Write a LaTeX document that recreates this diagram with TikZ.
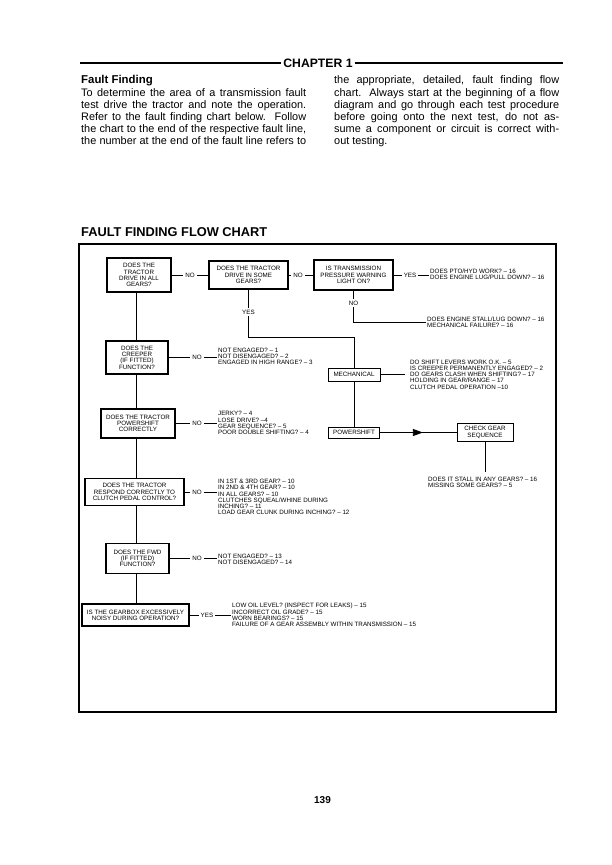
\documentclass[tikz,border=0pt]{standalone}
\usepackage{fontspec}
\setmainfont{Liberation Sans}
\usetikzlibrary{arrows.meta,decorations.markings}
\newcommand{\chfont}{\fontsize{6.25}{6.3}\selectfont}
\begin{document}
\begin{tikzpicture}[x=1pt,y=-1pt,
  box/.style={draw, line width=1.2pt, align=center, font=\chfont, inner sep=0pt},
  sbox/.style={box, line width=1pt},
  lab/.style={font=\chfont, inner sep=2pt},
  txt/.style={font=\chfont, align=left, inner sep=1pt, anchor=west},
  con/.style={line width=0.9pt},
  body/.style={font=\fontsize{10.9}{12.2}\selectfont, anchor=base west, inner sep=0pt}]
\useasboundingbox (0,0) rectangle (612,865);
\fill[white] (0,0) rectangle (612,865);

% header
\node[font=\bfseries\fontsize{12.2}{13}\selectfont, inner sep=2.5pt] (chap) at (318,63) {CHAPTER 1};
\coordinate (hl) at (80,63);
\coordinate (hr) at (563,63);
\draw[line width=2.2pt] (hl) -- (chap.west);
\draw[line width=2.2pt] (chap.east) -- (hr);

% body text
\node[body, font=\bfseries\fontsize{11.4}{12.2}\selectfont] (l1) at (81,83.8) {Fault Finding};
\node[body] (l2) at (81,96) {\makebox[225pt][s]{To determine the area of a transmission fault}};
\node[body] (l3) at (81,108.2) {\makebox[225pt][s]{test drive the tractor and note the operation.}};
\node[body] (l4) at (81,120.4) {\makebox[225pt][s]{Refer to the fault finding chart below.\ \ Follow}};
\node[body] (l5) at (81,132.6) {\makebox[225pt][s]{the chart to the end of the respective fault line,}};
\node[body] (l6) at (81,144.8) {\makebox[225pt][s]{the number at the end of the fault line refers to}};
\node[body] (r1) at (334,83.8) {\makebox[225pt][s]{the appropriate, detailed, fault finding flow}};
\node[body] (r2) at (334,96) {\makebox[225pt][s]{chart.\ \ Always start at the beginning of a flow}};
\node[body] (r3) at (334,108.2) {\makebox[225pt][s]{diagram and go through each test procedure}};
\node[body] (r4) at (334,120.4) {\makebox[225pt][s]{before going onto the next test, do not as-}};
\node[body] (r5) at (334,132.6) {\makebox[225pt][s]{sume a component or circuit is correct with-}};
\node[body] (r6) at (334,144.8) {out testing.};

% chart title and frame
\node[anchor=base west, inner sep=0pt, font=\bfseries\fontsize{12.8}{13}\selectfont] (cht) at (81,236.5) {FAULT FINDING FLOW CHART};
\draw[line width=1.1pt] (79,244) rectangle (556,712);

% top row
\node[box, minimum width=64pt, minimum height=34pt] (b1) at (139,275) {DOES THE\\TRACTOR\\DRIVE IN ALL\\GEARS?};
\node[box, minimum width=79pt, minimum height=28pt] (b2) at (248.5,275) {DOES THE TRACTOR\\DRIVE IN SOME\\GEARS?};
\node[box, minimum width=79pt, minimum height=30pt] (b3) at (353.5,275) {IS TRANSMISSION\\PRESSURE WARNING\\LIGHT ON?};
\node[lab] (n12) at (190,275) {NO};
\node[lab] (n23) at (298,275) {NO};
\node[lab] (y3) at (410,275) {YES};
\node[txt] (t3) at (429,274.5) {DOES PTO/HYD WORK? -- 16\\DOES ENGINE LUG/PULL DOWN? -- 16};
\draw[con] (b1) -- (n12);
\draw[con] (n12) -- (b2);
\draw[con] (b2) -- (n23);
\draw[con] (n23) -- (b3);
\draw[con] (b3) -- (y3);
\draw[con] (y3.east) -- (y3.east -| t3.west);

\node[lab] (n3) at (353.5,303) {NO};
\node[txt] (t3n) at (426,322.5) {DOES ENGINE STALL/LUG DOWN? -- 16\\MECHANICAL FAILURE? -- 16};
\draw[con] (b3) -- (n3);
\draw[con] (n3) |- (t3n.west);

% yes branch
\node[lab] (y2) at (248.5,312) {YES};
\draw[con] (b2) -- (y2);
\node[sbox, minimum width=52pt, minimum height=13pt] (mech) at (354,374.5) {MECHANICAL};
\coordinate (j) at (354,337);
\draw[con] (y2) |- (j) -- (mech);
\node[txt] (mt) at (409,374.5) {DO SHIFT LEVERS WORK O.K. -- 5\\IS CREEPER PERMANENTLY ENGAGED? -- 2\\DO GEARS CLASH WHEN SHIFTING? -- 17\\HOLDING IN GEAR/RANGE -- 17\\CLUTCH PEDAL OPERATION --10};
\coordinate (me) at (405,374.5);
\draw[con] (mech) -- (me);
\node[sbox, minimum width=51pt, minimum height=11pt] (ps) at (354,432.5) {POWERSHIFT};
\draw[con] (mech) -- (ps);
\node[sbox, minimum width=56pt, minimum height=18pt] (cg) at (485,432.5) {CHECK GEAR\\SEQUENCE};
\draw[con, postaction={decorate}, decoration={markings, mark=at position 0.56 with {\arrow{Triangle[length=10pt,width=7pt]}}}] (ps) -- (cg);
\node[txt] (cgt) at (427,482) {DOES IT STALL IN ANY GEARS? -- 16\\MISSING SOME GEARS? -- 5};
\coordinate (ce) at (485,472);
\draw[con] (cg) -- (ce);

% left column
\node[box, minimum width=62pt, minimum height=33pt] (cr) at (137,357.5) {DOES THE\\CREEPER\\(IF FITTED)\\FUNCTION?};
\node[lab] (nc) at (197,357.5) {NO};
\node[txt] (ct) at (217,356.5) {NOT ENGAGED? -- 1\\NOT DISENGAGED? -- 2\\ENGAGED IN HIGH RANGE? -- 3};
\draw[con] (cr) -- (nc);
\draw[con] (nc.east) -- (nc.east -| ct.west);

\node[box, minimum width=74pt, minimum height=29pt] (pq) at (138,423.5) {DOES THE TRACTOR\\POWERSHIFT\\CORRECTLY};
\node[lab] (np) at (197,423.5) {NO};
\node[txt] (pt) at (217,423) {JERKY? -- 4\\LOSE DRIVE? --4\\GEAR SEQUENCE? -- 5\\POOR DOUBLE SHIFTING? -- 4};
\draw[con] (pq) -- (np);
\draw[con] (np.east) -- (np.east -| pt.west);

\node[box, minimum width=99pt, minimum height=27pt] (cl) at (134.5,492) {DOES THE TRACTOR\\RESPOND CORRECTLY TO\\CLUTCH PEDAL CONTROL?};
\node[lab] (ncl) at (197,492) {NO};
\node[txt] (clt) at (217,497) {IN 1ST \& 3RD GEAR? -- 10\\IN 2ND \& 4TH GEAR? -- 10\\IN ALL GEARS? -- 10\\CLUTCHES SQUEAL/WHINE DURING\\INCHING? -- 11\\LOAD GEAR CLUNK DURING INCHING? -- 12};
\draw[con] (cl) -- (ncl);
\draw[con] (ncl.east) -- (ncl.east -| clt.west);

\node[box, minimum width=63pt, minimum height=30pt] (fw) at (137.5,558.5) {DOES THE FWD\\(IF FITTED)\\FUNCTION?};
\node[lab] (nf) at (197,558.5) {NO};
\node[txt] (ft) at (217,559) {NOT ENGAGED? -- 13\\NOT DISENGAGED? -- 14};
\draw[con] (fw) -- (nf);
\draw[con] (nf.east) -- (nf.east -| ft.west);

\node[box, minimum width=107pt, minimum height=22pt] (gb) at (135.5,615) {IS THE GEARBOX EXCESSIVELY\\NOISY DURING OPERATION?};
\node[lab] (yg) at (207,615) {YES};
\node[txt] (gt) at (231,615) {LOW OIL LEVEL? (INSPECT FOR LEAKS) -- 15\\INCORRECT OIL GRADE? -- 15\\WORN BEARINGS? -- 15\\FAILURE OF A GEAR ASSEMBLY WITHIN TRANSMISSION -- 15};
\draw[con] (gb) -- (yg);
\draw[con] (yg.east) -- (yg.east -| gt.west);

% spine
\coordinate (sp) at (136,0);
\draw[con] (b1.south -| sp) -- (cr.north -| sp);
\draw[con] (cr.south -| sp) -- (pq.north -| sp);
\draw[con] (pq.south -| sp) -- (cl.north -| sp);
\draw[con] (cl.south -| sp) -- (fw.north -| sp);
\draw[con] (fw.south -| sp) -- (gb.north -| sp);

% page number
\node[font=\bfseries\fontsize{10}{12}\selectfont] (pg) at (322.5,800) {139};
\end{tikzpicture}
\end{document}
